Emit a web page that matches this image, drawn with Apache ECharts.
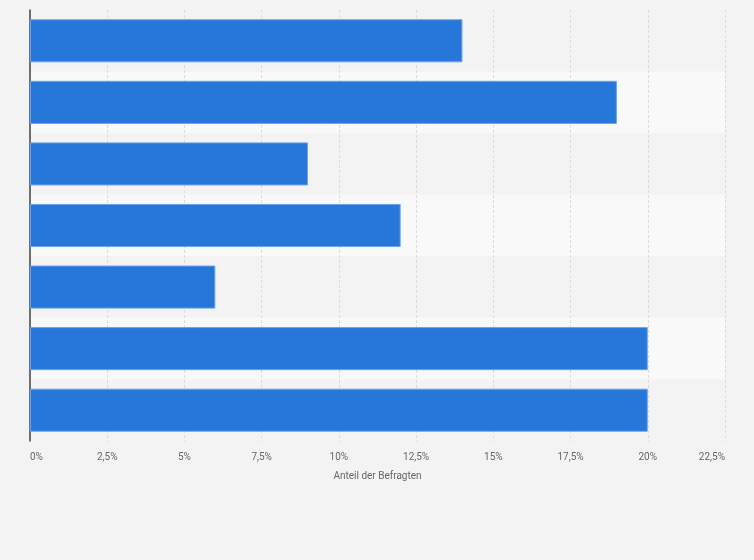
<!DOCTYPE html>
<html>
<head>
<meta charset="utf-8">
<script src="https://cdn.jsdelivr.net/npm/echarts@6/dist/echarts.min.js"></script>
<style>
  html, body { margin: 0; padding: 0; background: #f3f3f3; }
  #app { width: 754px; height: 560px; }
</style>
</head>
<body>
<div id="app"></div>
<script>
// Kategorien (im Original ohne Beschriftung)
var categories = ['A', 'B', 'C', 'D', 'E', 'F', 'G'];
// Anteil der Befragten in Prozent
var shares = [14, 19, 9, 12, 6, 20, 20];
// Achsenbeschriftung
var axisTitle = 'Anteil der Befragten';

var chart = echarts.init(document.getElementById('app'));

chart.setOption({
    backgroundColor: '#f3f3f3',
    animation: false,
    grid: {
        left: 30,
        right: 29,
        top: 10,
        bottom: 119,
        containLabel: false
    },
    xAxis: {
        type: 'value',
        min: 0,
        max: 22.5,
        interval: 2.5,
        name: axisTitle,
        nameLocation: 'middle',
        nameGap: 30,
        nameTextStyle: { color: '#666', fontSize: 10, fontFamily: 'Roboto' },
        axisLine: { show: false },
        axisTick: { show: false },
        axisLabel: {
            color: '#666',
            fontSize: 10,
            fontFamily: 'Roboto',
            margin: 11,
            alignMinLabel: 'left',
            alignMaxLabel: 'right',
            formatter: function(v) {
                return String(v).replace('.', ',') + '%';
            }
        },
        splitLine: {
            lineStyle: { color: '#dcdcdc', type: [3, 2], width: 1 }
        }
    },
    yAxis: {
        type: 'category',
        data: categories,
        inverse: true,
        axisLine: { show: true, lineStyle: { color: '#444', width: 1.5 } },
        axisTick: { show: false },
        axisLabel: { show: false },
        splitArea: {
            show: true,
            areaStyle: { color: ['#f3f3f3', '#f9f9f9'] }
        }
    },
    series: [{
        type: 'bar',
        data: shares,
        barCategoryGap: '30%',
        itemStyle: {
            color: '#2777db',
            borderColor: '#6ea3ea',
            borderWidth: 1
        }
    }]
});
</script>
</body>
</html>
